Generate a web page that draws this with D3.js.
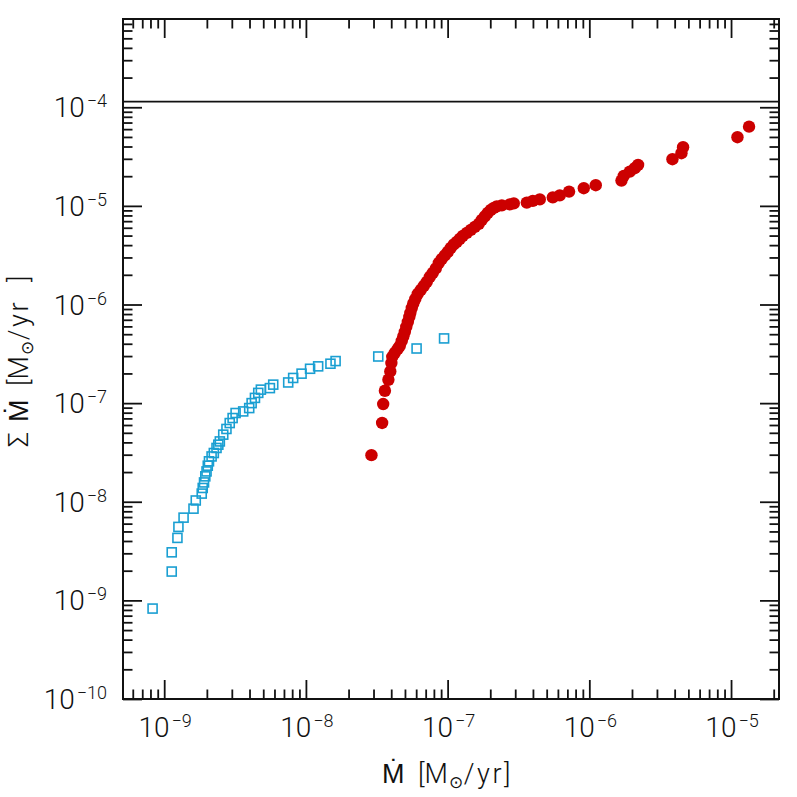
<!DOCTYPE html>
<html>
<head>
<meta charset="utf-8">
<script src="https://cdn.jsdelivr.net/npm/d3@7"></script>
<style>
  body { margin: 0; background: #fff; }
  text { font-family: Roboto, "Liberation Sans", Arial, sans-serif; font-weight: 300; fill: #111; }
</style>
</head>
<body>
<div id="chart"></div>
<script>
// Blue squares: low mass-loss sources (Mdot, cumulative sum)
var mdotBlue = [8.28e-10, 1.13e-9, 1.13e-9, 1.24e-9, 1.26e-9, 1.37e-9, 1.61e-9, 1.67e-9, 1.84e-9, 1.87e-9,
                1.91e-9, 1.95e-9, 1.99e-9, 2.03e-9, 2.07e-9, 2.16e-9, 2.24e-9, 2.34e-9, 2.41e-9, 2.47e-9,
                2.61e-9, 2.75e-9, 2.90e-9, 3.04e-9, 3.19e-9, 3.61e-9, 3.98e-9, 4.14e-9, 4.37e-9, 4.61e-9,
                4.81e-9, 5.57e-9, 5.88e-9, 7.50e-9, 8.13e-9, 9.32e-9, 1.07e-8, 1.22e-8, 1.49e-8, 1.62e-8,
                3.24e-8, 6.04e-8, 9.44e-8];
var cumBlue  = [8.26e-10, 1.96e-9, 3.07e-9, 4.30e-9, 5.56e-9, 6.90e-9, 8.51e-9, 1.03e-8, 1.21e-8, 1.38e-8,
                1.57e-8, 1.81e-8, 2.03e-8, 2.32e-8, 2.57e-8, 2.88e-8, 3.12e-8, 3.51e-8, 3.79e-8, 4.09e-8,
                4.79e-8, 5.47e-8, 6.28e-8, 7.06e-8, 7.94e-8, 8.24e-8, 8.91e-8, 1.00e-7, 1.13e-7, 1.27e-7,
                1.37e-7, 1.42e-7, 1.54e-7, 1.62e-7, 1.80e-7, 1.99e-7, 2.23e-7, 2.36e-7, 2.51e-7, 2.67e-7,
                2.97e-7, 3.58e-7, 4.53e-7];

// Red dots: high mass-loss sources
var mdotRed = [2.90e-8, 3.45e-8, 3.51e-8, 3.61e-8, 3.82e-8, 3.94e-8, 4.01e-8, 4.07e-8, 4.24e-8, 4.45e-8,
               4.60e-8, 4.75e-8, 4.87e-8, 4.99e-8, 5.11e-8, 5.24e-8, 5.37e-8, 5.46e-8, 5.59e-8, 5.73e-8,
               5.92e-8, 6.16e-8, 6.47e-8, 6.80e-8, 7.13e-8, 7.49e-8, 7.86e-8, 8.26e-8, 8.67e-8, 9.10e-8,
               9.56e-8, 1.003e-7, 1.053e-7, 1.106e-7, 1.161e-7, 1.219e-7, 1.280e-7, 1.366e-7, 1.458e-7, 1.556e-7,
               1.660e-7, 1.743e-7, 1.830e-7, 1.921e-7, 2.018e-7, 2.118e-7, 2.224e-7, 2.412e-7, 2.747e-7, 2.931e-7,
               3.620e-7, 3.991e-7, 4.472e-7, 5.523e-7, 6.187e-7, 7.196e-7, 9.139e-7, 1.110e-6, 1.686e-6, 1.750e-6,
               1.929e-6, 2.092e-6, 2.208e-6, 3.860e-6, 4.468e-6, 4.586e-6, 1.110e-5, 1.340e-5];
var cumRed  = [2.97e-8, 6.29e-8, 9.79e-8, 1.335e-7, 1.726e-7, 2.095e-7, 2.548e-7, 2.952e-7, 3.241e-7, 3.557e-7,
               3.816e-7, 4.288e-7, 4.763e-7, 5.289e-7, 5.945e-7, 6.679e-7, 7.506e-7, 8.240e-7, 9.261e-7, 1.029e-6,
               1.142e-6, 1.284e-6, 1.409e-6, 1.547e-6, 1.698e-6, 1.909e-6, 2.095e-6, 2.327e-6, 2.645e-6, 2.904e-6,
               3.151e-6, 3.419e-6, 3.754e-6, 4.073e-6, 4.318e-6, 4.629e-6, 4.966e-6, 5.326e-6, 5.712e-6, 6.126e-6,
               6.571e-6, 7.215e-6, 7.829e-6, 8.494e-6, 9.111e-6, 9.544e-6, 9.883e-6, 1.012e-5, 1.036e-5, 1.060e-5,
               1.080e-5, 1.124e-5, 1.164e-5, 1.219e-5, 1.278e-5, 1.396e-5, 1.511e-5, 1.621e-5, 1.804e-5, 2.014e-5,
               2.226e-5, 2.410e-5, 2.602e-5, 2.972e-5, 3.419e-5, 3.933e-5, 4.966e-5, 6.358e-5];

// total level (horizontal line)
var totalLevel = 1.14e-4;

// axis decades (major ticks), labels are 10^exp
var xExps = [-9, -8, -7, -6, -5];
var yExps = [-10, -9, -8, -7, -6, -5, -4];
var xDomain = [5.12e-10, 2.18e-5];
var yDomain = [1e-10, 7.85e-4];

var W = 797, H = 797;
var margin = {top: 19, right: 18, bottom: 98, left: 123};
var width = W - margin.left - margin.right,
    height = H - margin.top - margin.bottom;

var svg = d3.select("#chart").append("svg")
    .attr("width", W)
    .attr("height", H);

var g = svg.append("g")
    .attr("transform", "translate(" + margin.left + "," + margin.top + ")");

var x = d3.scaleLog().domain(xDomain).range([0, width]);
var y = d3.scaleLog().domain(yDomain).range([height, 0]);

// minor ticks 2..9 in each decade inside domain
function minorTicks(dom) {
    var out = [];
    var lo = Math.floor(Math.log10(dom[0])), hi = Math.ceil(Math.log10(dom[1]));
    for (var k = lo; k <= hi; k++) {
        for (var m = 2; m <= 9; m++) {
            var v = m * Math.pow(10, k);
            if (v > dom[0] && v < dom[1]) out.push(v);
        }
    }
    return out;
}
var xMajor = xExps.map(function(e) { return Math.pow(10, e); });
var yMajor = yExps.map(function(e) { return Math.pow(10, e); });

function drawAxis(axisFn, scale, vals, size, transform) {
    var a = g.append("g")
        .attr("transform", transform)
        .call(axisFn(scale).tickValues(vals).tickSizeInner(-size).tickSizeOuter(0).tickFormat(""));
    a.select(".domain").remove();
    a.selectAll(".tick line").attr("stroke", "#111").attr("stroke-width", 1.8);
}

// bottom / top
drawAxis(d3.axisBottom, x, xMajor, 19, "translate(0," + height + ")");
drawAxis(d3.axisBottom, x, minorTicks(xDomain), 9.5, "translate(0," + height + ")");
drawAxis(d3.axisTop, x, xMajor, 19, "translate(0,0)");
drawAxis(d3.axisTop, x, minorTicks(xDomain), 9.5, "translate(0,0)");
// left / right
drawAxis(d3.axisLeft, y, yMajor, 19, "translate(0,0)");
drawAxis(d3.axisLeft, y, minorTicks(yDomain), 9.5, "translate(0,0)");
drawAxis(d3.axisRight, y, yMajor, 19, "translate(" + width + ",0)");
drawAxis(d3.axisRight, y, minorTicks(yDomain), 9.5, "translate(" + width + ",0)");

// frame
g.append("rect")
    .attr("x", 0).attr("y", 0)
    .attr("width", width).attr("height", height)
    .attr("fill", "none")
    .attr("stroke", "#111")
    .attr("stroke-width", 2);

// horizontal total line
g.append("line")
    .attr("x1", 0).attr("x2", width)
    .attr("y1", y(totalLevel)).attr("y2", y(totalLevel))
    .attr("stroke", "#111")
    .attr("stroke-width", 1.8);

// tick labels
function powLabel(sel, e) {
    sel.append("tspan").text("10");
    sel.append("tspan")
        .attr("dx", 2)
        .attr("dy", -10)
        .style("font-size", "18px")
        .text("\u2212" + Math.abs(e));
}
xExps.forEach(function(e) {
    var t = g.append("text")
        .attr("x", x(Math.pow(10, e)) + 1)
        .attr("y", height + 38)
        .attr("text-anchor", "middle")
        .style("font-size", "28px");
    powLabel(t, e);
});
yExps.forEach(function(e) {
    var t = g.append("text")
        .attr("x", -16)
        .attr("y", y(Math.pow(10, e)) + 10)
        .attr("text-anchor", "end")
        .style("font-size", "28px");
    powLabel(t, e);
});

// points
g.append("g").selectAll("rect")
    .data(mdotBlue.map(function(d, i) { return [d, cumBlue[i]]; }))
    .enter().append("rect")
    .attr("x", function(d) { return x(d[0]) - 4.5; })
    .attr("y", function(d) { return y(d[1]) - 4.5; })
    .attr("width", 9)
    .attr("height", 9)
    .attr("fill", "none")
    .attr("stroke", "#1a9fd2")
    .attr("stroke-width", 1.6);

g.append("g").selectAll("circle")
    .data(mdotRed.map(function(d, i) { return [d, cumRed[i]]; }))
    .enter().append("circle")
    .attr("cx", function(d) { return x(d[0]); })
    .attr("cy", function(d) { return y(d[1]); })
    .attr("r", 6.2)
    .attr("fill", "#cc0000");

// axis titles
function addTitle(sel, withSigma) {
    var off = 0;
    if (withSigma) {
        sel.append("tspan").attr("x", 0).text("\u03A3");
        off = 25;
    }
    sel.append("tspan").attr("x", off).text("\u1E40");
    sel.append("tspan").attr("x", off + 36).text("[M");
    sel.append("tspan").attr("dx", 1).attr("dy", 5).style("font-size", "17px").text("\u2299");
    sel.append("tspan").attr("dx", 1).attr("dy", -5).style("letter-spacing", "2.5px").text("/yr");
    sel.append("tspan").attr("dx", withSigma ? 18 : 0).text("]");
}

var xt = svg.append("text")
    .attr("transform", "translate(382,783)")
    .style("font-size", "27px");
addTitle(xt, false);

var yt = svg.append("text")
    .attr("transform", "translate(28,447) rotate(-90)")
    .style("font-size", "27px");
addTitle(yt, true);
</script>
</body>
</html>
